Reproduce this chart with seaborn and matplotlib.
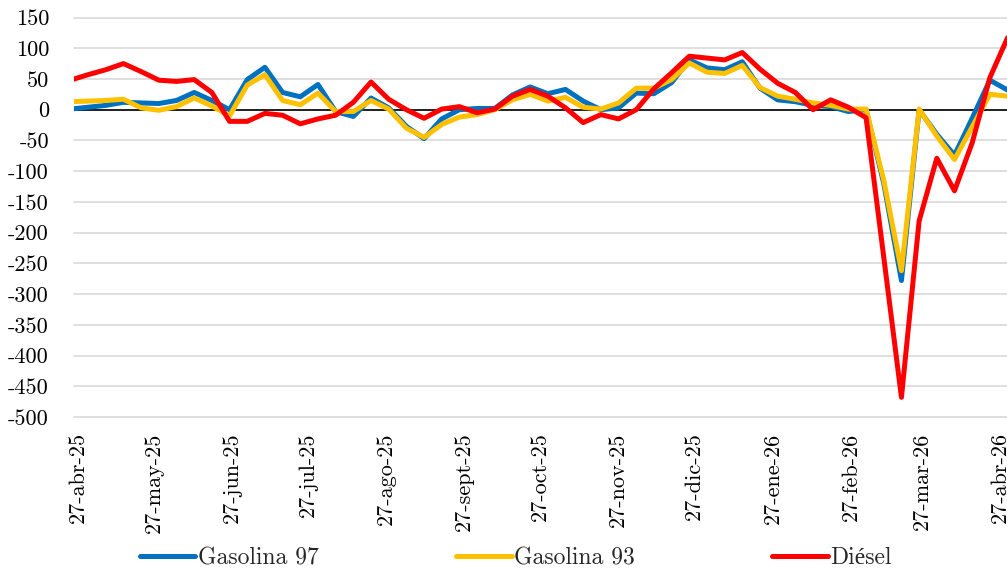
import numpy as np
import pandas as pd
import matplotlib
matplotlib.use("Agg")
import matplotlib.pyplot as plt
import matplotlib.transforms as mtransforms
import seaborn as sns

# ---------------- data ----------------
start_date = "2025-04-24"
gas97 = [1, 4, 7, 12, 11, 10, 15, 28, 15, 0,
         49, 69, 28, 21, 41, -3, -11, 19, 3, -27,
         -47, -15, 0, 2, 2, 24, 37, 26, 33, 14,
         0, 3, 27, 26, 44, 81, 68, 65, 78, 35,
         16, 13, 7, 5, -3, 0, -120, -278, 0, -40,
         -74, -14, 48, 32]
gas93 = [13, 14, 15, 17, 3, -1, 5, 19, 6, -10,
         40, 57, 15, 8, 27, -3, -3, 15, 1, -30,
         -45, -24, -12, -8, 0, 16, 25, 14, 20, 4,
         1, 11, 35, 35, 49, 76, 61, 59, 72, 36,
         22, 17, 11, 7, 1, 1, -115, -262, 1, -43,
         -81, -28, 25, 22]
diesel = [48, 57, 65, 75, 62, 48, 46, 49, 28, -19,
          -19, -6, -9, -23, -15, -9, 12, 45, 17, 0,
          -14, 1, 5, -5, 1, 22, 33, 22, 3, -21,
          -8, -15, 0, 34, 60, 87, 84, 81, 93, 66,
          43, 28, 0, 16, 4, -13, -240, -468, -181, -79,
          -132, -54, 52, 117]
series_names = ["Gasolina 97", "Gasolina 93", "Diésel"]
series_colors = ["#0070C0", "#FFC000", "#FF0000"]
tick_dates = ["2025-04-27", "2025-05-27", "2025-06-27", "2025-07-27",
              "2025-08-27", "2025-09-27", "2025-10-27", "2025-11-27",
              "2025-12-27", "2026-01-27", "2026-02-27", "2026-03-27",
              "2026-04-27"]
tick_labels = ["27-abr-25", "27-may-25", "27-jun-25", "27-jul-25",
               "27-ago-25", "27-sept-25", "27-oct-25", "27-nov-25",
               "27-dic-25", "27-ene-26", "27-feb-26", "27-mar-26",
               "27-abr-26"]
y_ticks = list(range(-500, 151, 50))

# ---------------- style ----------------
sns.set_theme(style="white")
plt.rcParams["font.family"] = ["cmr10", "Liberation Serif"]
plt.rcParams["axes.unicode_minus"] = False

W, H = 1007, 571
fig = plt.figure(figsize=(W / 100, H / 100), dpi=100)
ax = fig.add_axes([74 / W, (H - 417) / H, (W - 74) / W, (417 - 17.5) / H])

dates = pd.date_range(start_date, periods=len(gas97), freq="7D")
df = pd.DataFrame({
    "fecha": np.tile(dates, 3),
    "valor": gas97 + gas93 + diesel,
    "serie": np.repeat(series_names, len(gas97)),
})

sns.lineplot(data=df, x="fecha", y="valor", hue="serie",
             hue_order=series_names,
             palette=dict(zip(series_names, series_colors)),
             linewidth=3.6, ax=ax, legend=True)

ax.axhline(0, color="black", lw=1.2, zorder=1.5)

ref = pd.Timestamp("2025-04-27")
ax.set_xlim(ref - pd.Timedelta(hours=38), ref + pd.Timedelta(hours=int(367.8 * 24)))
ax.set_ylim(-500, 150)
ax.set_yticks(y_ticks)
ax.set_yticklabels([str(v) for v in y_ticks], fontsize=16)
ax.set_xticks(pd.to_datetime(tick_dates))
ax.set_xticklabels(tick_labels, rotation=90, fontsize=16)
shift = mtransforms.ScaledTranslation(3 / 100, 0, fig.dpi_scale_trans)
for lbl in ax.get_xticklabels():
    lbl.set_transform(lbl.get_transform() + shift)

ax.grid(axis="y", color="#d9d9d9", lw=1.2)
ax.grid(axis="x", visible=False)
for gl in ax.get_ygridlines():
    gl.set_clip_on(False)
for s in ax.spines.values():
    s.set_visible(False)
ax.tick_params(axis="y", length=0, pad=18, colors="black")
ax.tick_params(axis="x", length=0, pad=11, colors="black")
ax.set_xlabel("")
ax.set_ylabel("")

handles, labels = ax.get_legend_handles_labels()
ax.get_legend().remove()
fig.legend(handles, labels, loc="center left",
           bbox_to_anchor=(140 / W, 1 - 558 / H), ncol=3, frameon=False,
           fontsize=17, handlelength=2.35, handletextpad=0.12,
           columnspacing=5.8, borderpad=0, borderaxespad=0)

fig.savefig("out.png", dpi=100)
